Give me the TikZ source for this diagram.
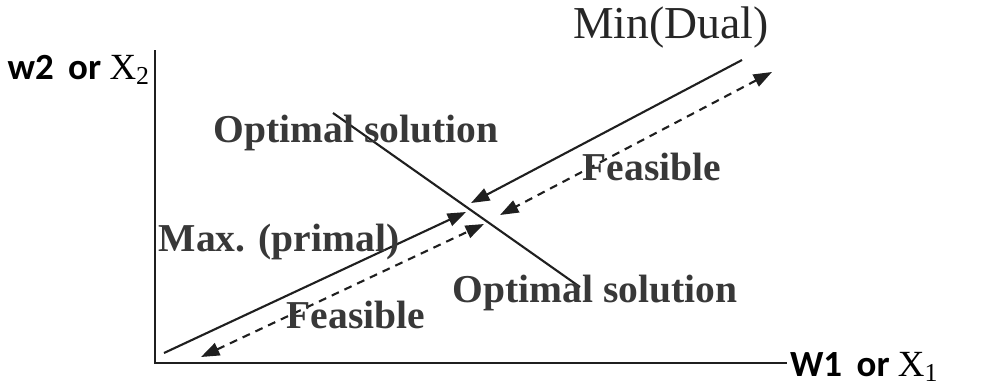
\documentclass[tikz,border=0pt]{standalone}
\usepackage{fontspec}
\setmainfont{Liberation Serif}
\newfontfamily\axisfont{Carlito}
\usetikzlibrary{arrows.meta}

\tikzset{
  lbl/.style={font=\fontsize{22.5}{25}\selectfont\bfseries, text=black!78, inner sep=0pt},
  axlbl/.style={font=\fontsize{21}{24}\selectfont\axisfont\bfseries, inner sep=0pt},
  tip/.style={-{Triangle[length=10.5pt,width=7.5pt]}},
  twotip/.style={{Triangle[length=10.5pt,width=7.5pt]}-{Triangle[length=10.5pt,width=7.5pt]}},
  dsh/.style={dash pattern=on 4.5pt off 3.5pt},
}

\begin{document}
\begin{tikzpicture}[x=0.02cm,y=-0.02cm,line width=1.2pt,draw=black!88]
\useasboundingbox (0,0) rectangle (987,387);
\coordinate (O) at (155,363);
\coordinate (ytop) at (155,50);
\coordinate (xend) at (787,363);
\draw (ytop) -- (O) -- (xend);
\node[axlbl,anchor=east] (ylab) at (151,70) {w2\, or {\rmfamily\mdseries X\textsubscript{2}}};
\node[axlbl,anchor=west] (xlab) at (789,367) {W1\, or {\rmfamily\mdseries X\textsubscript{1}}};
\coordinate (optA) at (333,113);
\coordinate (optB) at (580,287);
\draw (optA) -- (optB);
\coordinate (dualA) at (742,60);
\coordinate (dualB) at (471,203);
\draw[tip] (dualA) -- (dualB);
\coordinate (dualC) at (772,72);
\coordinate (dualD) at (500,215);
\draw[twotip,dsh] (dualC) -- (dualD);
\coordinate (primA) at (164,353);
\coordinate (primB) at (466,212);
\draw[tip] (primA) -- (primB);
\coordinate (primC) at (201,357);
\coordinate (primD) at (484,224);
\draw[twotip,dsh] (primC) -- (primD);
\node[font=\fontsize{26}{29}\selectfont, text=black!85] (mindual) at (671,28) {Min(Dual)};
\node[lbl] (opt1) at (356,133) {Optimal solution};
\node[lbl] (feas1) at (652,167) {Feasible};
\node[lbl] (maxp) at (279,242) {Max. (primal)};
\node[lbl] (feas2) at (356,315) {Feasible};
\node[lbl] (opt2) at (595,293) {Optimal solution};
\end{tikzpicture}
\end{document}
